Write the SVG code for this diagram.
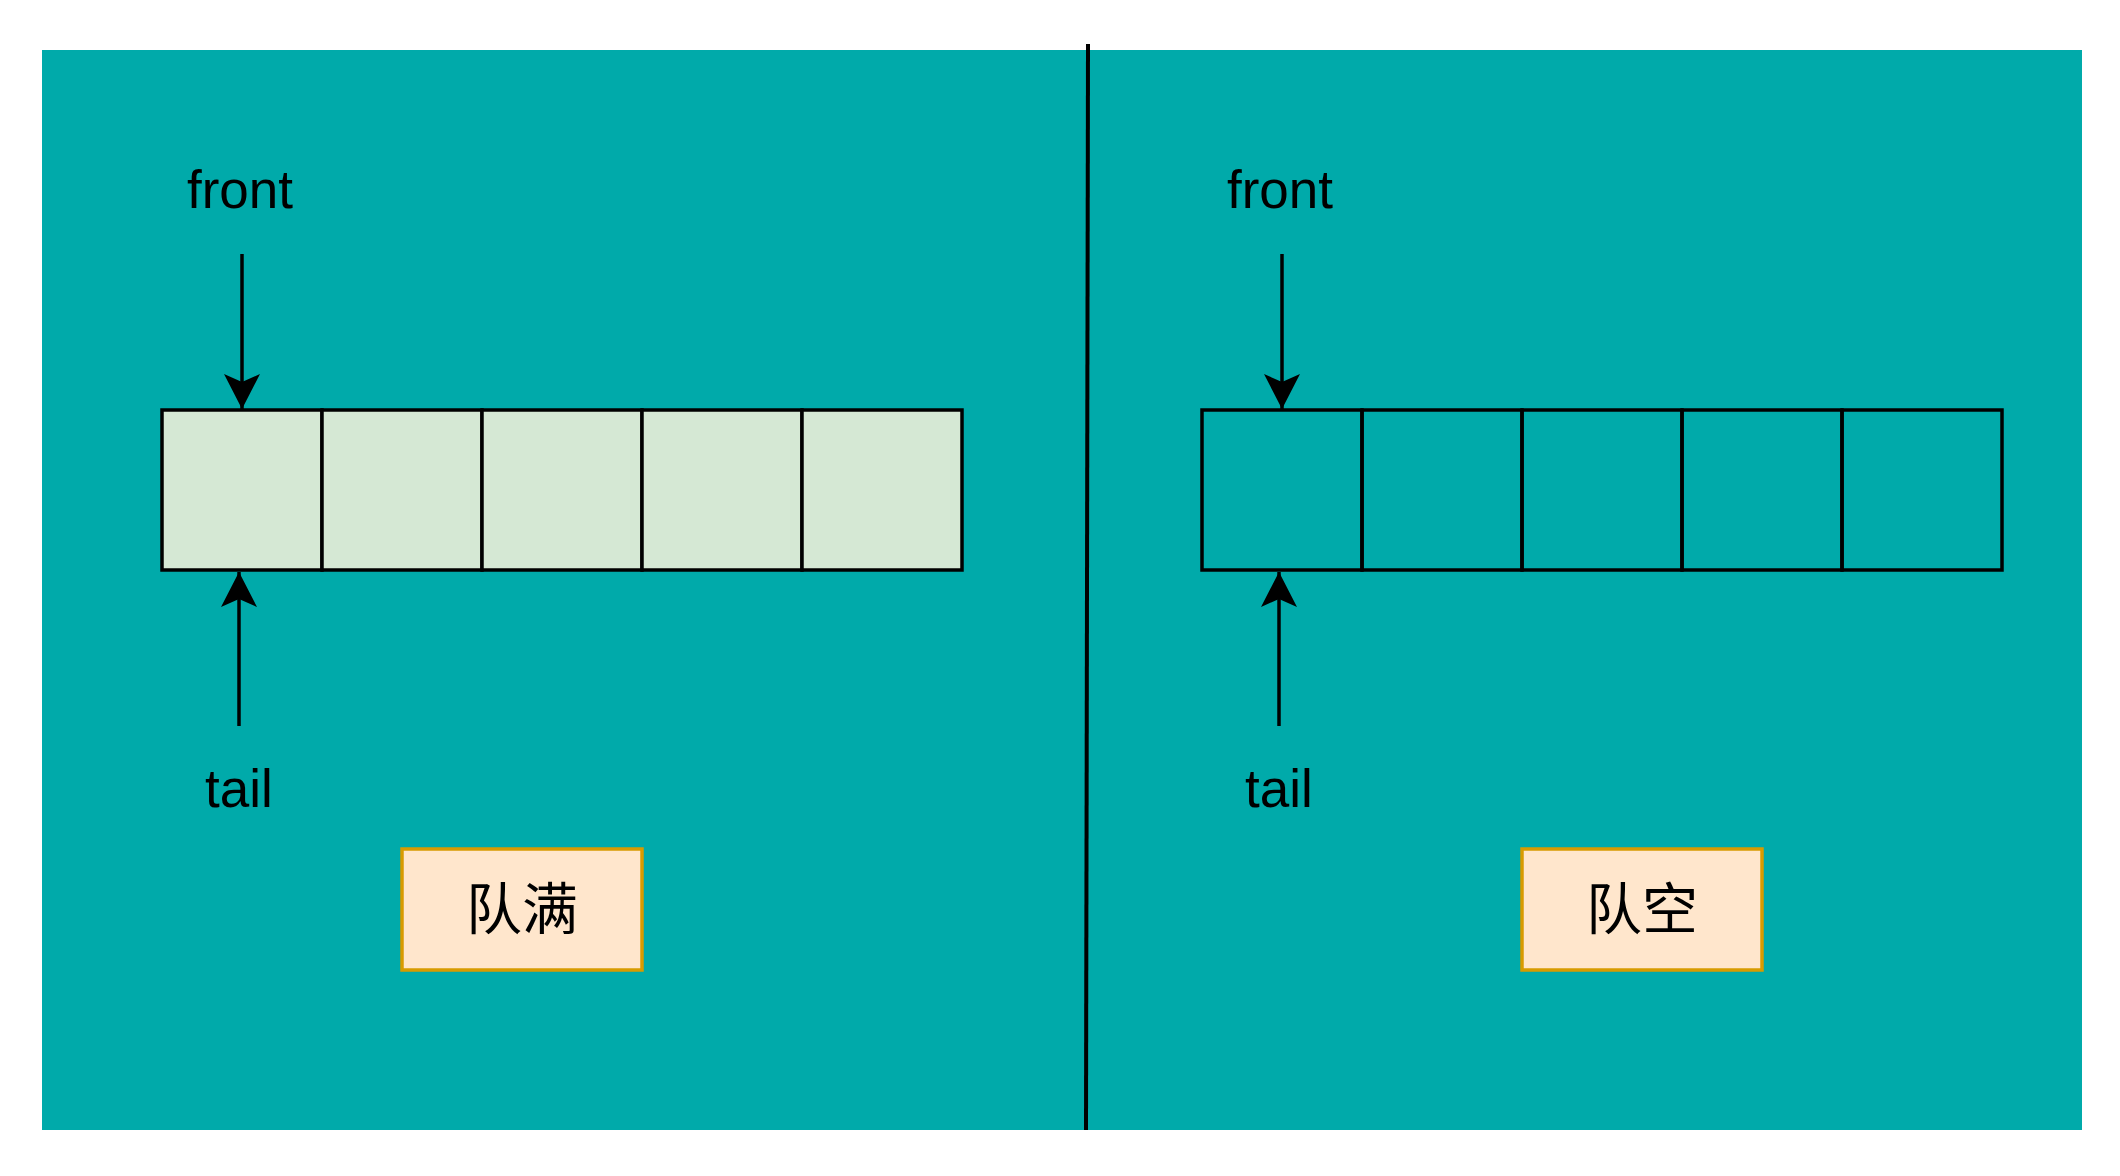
<svg xmlns="http://www.w3.org/2000/svg" width="2120" height="1176" viewBox="0 0 2120 1176">
<defs>
<style>
.cell{stroke:#000;stroke-width:3.5}
.full{fill:#d5e8d4}
.empty{fill:none}
.lbl{font-family:"Liberation Sans",Arial,sans-serif;font-size:53px;fill:#000;text-anchor:middle}
.tag{fill:#ffe6cc;stroke:#d79b00;stroke-width:3.5}
.cjk{font-family:"Noto Sans CJK SC","Liberation Sans",sans-serif;font-size:56px;fill:#000;text-anchor:middle}
.edge{stroke:#000;stroke-width:3.5;fill:none}
</style>
<marker id="ah" markerUnits="userSpaceOnUse" viewBox="0 0 36 36" refX="35" refY="18" markerWidth="36" markerHeight="36" orient="auto">
<path d="M35,18 L0,0 L8,18 L0,36 Z" fill="#000"/>
</marker>
</defs>
<rect x="42" y="50" width="2040" height="1080" fill="#00aaaa"/>
<line x1="1088" y1="44" x2="1086" y2="1130" stroke="#000" stroke-width="4"/>
<g id="queue-full">
<rect class="cell full" x="162" y="410" width="160" height="160"/>
<rect class="cell full" x="322" y="410" width="160" height="160"/>
<rect class="cell full" x="482" y="410" width="160" height="160"/>
<rect class="cell full" x="642" y="410" width="160" height="160"/>
<rect class="cell full" x="802" y="410" width="160" height="160"/>
</g>
<g id="queue-empty">
<rect class="cell empty" x="1202" y="410" width="160" height="160"/>
<rect class="cell empty" x="1362" y="410" width="160" height="160"/>
<rect class="cell empty" x="1522" y="410" width="160" height="160"/>
<rect class="cell empty" x="1682" y="410" width="160" height="160"/>
<rect class="cell empty" x="1842" y="410" width="160" height="160"/>
</g>
<g id="front-left"><text class="lbl" x="240" y="208">front</text></g>
<g id="tail-left"><text class="lbl" x="239" y="807">tail</text></g>
<g id="front-right"><text class="lbl" x="1280" y="208">front</text></g>
<g id="tail-right"><text class="lbl" x="1279" y="807">tail</text></g>
<g id="label-full"><rect class="tag" x="402" y="849" width="240" height="121"/><text class="cjk" x="522" y="929">队满</text></g>
<g id="label-empty"><rect class="tag" x="1522" y="849" width="240" height="121"/><text class="cjk" x="1642" y="929">队空</text></g>
<g id="connectors">
<line class="edge" x1="242" y1="254" x2="242" y2="409" marker-end="url(#ah)"/>
<line class="edge" x1="239" y1="726" x2="239" y2="572" marker-end="url(#ah)"/>
<line class="edge" x1="1282" y1="254" x2="1282" y2="409" marker-end="url(#ah)"/>
<line class="edge" x1="1279" y1="726" x2="1279" y2="572" marker-end="url(#ah)"/>
</g>
</svg>
